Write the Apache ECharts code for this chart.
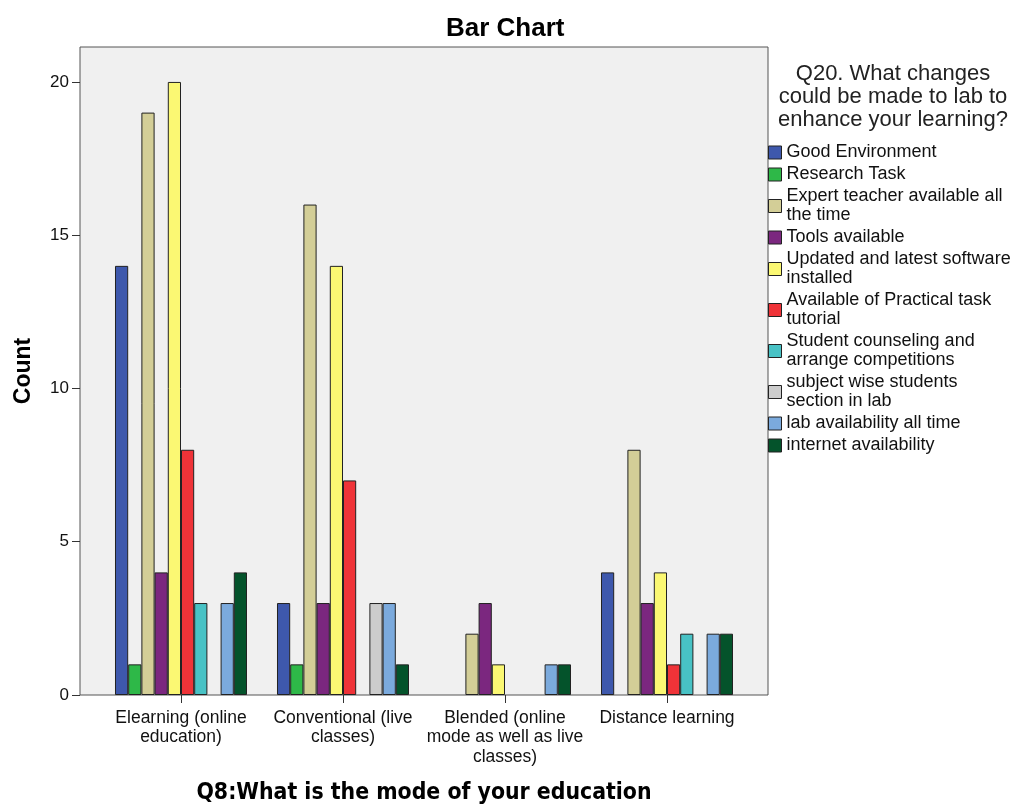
<!DOCTYPE html>
<html>
<head>
<meta charset="utf-8">
<script src="https://cdn.jsdelivr.net/npm/echarts@6/dist/echarts.min.js"></script>
<style>
html,body{margin:0;padding:0;background:#fff;}
#main{width:1021px;height:805px;}
</style>
</head>
<body>
<div id="main"></div>
<script>
var categories = [
  'Elearning (online\neducation)',
  'Conventional (live\nclasses)',
  'Blended (online\nmode as well as live\nclasses)',
  'Distance learning'
];
var seriesNames = [
  'Good Environment',
  'Research Task',
  'Expert teacher available all\nthe time',
  'Tools available',
  'Updated and latest software\ninstalled',
  'Available of Practical task\ntutorial',
  'Student counseling and\narrange competitions',
  'subject wise students\nsection in lab',
  'lab availability all time',
  'internet availability'
];
var goodEnvironment   = [14, 3, 0, 4];
var researchTask      = [1, 1, 0, 0];
var expertTeacher     = [19, 16, 2, 8];
var toolsAvailable    = [4, 3, 3, 3];
var updatedSoftware   = [20, 14, 1, 4];
var practicalTutorial = [8, 7, 0, 1];
var studentCounseling = [3, 0, 0, 2];
var subjectWise       = [0, 3, 0, 0];
var labAvailability   = [3, 3, 1, 2];
var internetAvail     = [4, 1, 1, 2];
var yTicks = [0, 5, 10, 15, 20];

var seriesValues = [goodEnvironment, researchTask, expertTeacher, toolsAvailable,
  updatedSoftware, practicalTutorial, studentCounseling, subjectWise, labAvailability, internetAvail];
var colors = ['#3E58AC', '#2EB848', '#D3CE97', '#7B277F', '#FBF873',
  '#EF3338', '#48C2C5', '#CCCCCC', '#7BAADD', '#04532B'];

var chart = echarts.init(document.getElementById('main'), null, {renderer: 'canvas'});
var FONT = 'Liberation Sans, Arial, sans-serif';

// frame (plot area incl. SPSS-style side padding)
var FX = 80, FY = 47, FW = 688, FH = 648, PAD = 20;

var series = seriesNames.map(function (name, i) {
  return {
    name: name,
    type: 'bar',
    barGap: '0%',
    barCategoryGap: '18.5%',
    data: seriesValues[i].map(function (v) { return v === 0 ? null : v; }),
    itemStyle: {color: colors[i], borderColor: '#222', borderWidth: 1},
    emphasis: {disabled: true}
  };
});

chart.setOption({
  animation: false,
  color: colors,
  title: {
    text: 'Bar Chart',
    left: 441,
    top: 11,
    textStyle: {fontFamily: FONT, fontSize: 26, fontWeight: 'bold', color: '#000'}
  },
  grid: {left: FX + PAD, right: 1021 - (FX + FW) + PAD, top: FY, bottom: 805 - (FY + FH),
    show: false, containLabel: false, outerBoundsMode: 'none'},
  legend: {
    orient: 'vertical',
    left: 763,
    top: 138,
    itemWidth: 13,
    itemHeight: 13,
    itemGap: 3,
    icon: 'rect',
    selectedMode: false,
    itemStyle: {borderColor: '#222', borderWidth: 1},
    textStyle: {fontFamily: FONT, fontSize: 18, lineHeight: 19, color: '#111'},
    data: seriesNames
  },
  graphic: [{
    type: 'rect',
    z: -10,
    silent: true,
    shape: {x: FX, y: FY, width: FW, height: FH},
    style: {fill: '#F0F0F0', stroke: '#555', lineWidth: 1}
  }, {
    type: 'text',
    x: 893,
    y: 62,
    style: {
      text: 'Q20. What changes\ncould be made to lab to\nenhance your learning?',
      textAlign: 'center',
      textVerticalAlign: 'top',
      font: '22px Liberation Sans, Arial, sans-serif',
      lineHeight: 23,
      fill: '#222'
    }
  }],
  xAxis: {
    type: 'category',
    data: categories,
    name: 'Q8:What is the mode of your education',
    nameLocation: 'middle',
    nameGap: 87,
    nameTextStyle: {fontFamily: 'DejaVu Sans Condensed, DejaVu Sans, sans-serif', fontSize: 22.8, fontWeight: 'bold', color: '#000'},
    axisLine: {show: false},
    axisTick: {show: true, alignWithLabel: true, length: 8, lineStyle: {color: '#333'}},
    axisLabel: {fontFamily: FONT, fontSize: 17.5, lineHeight: 19.5, color: '#111', margin: 13, interval: 0}
  },
  yAxis: {
    type: 'value',
    min: 0,
    max: 21.14,
    interval: 5,
    offset: PAD,
    name: 'Count',
    nameLocation: 'middle',
    nameGap: 45,
    nameMoveOverlap: false,
    nameRotate: 90,
    nameTextStyle: {fontFamily: FONT, fontSize: 23, fontWeight: 'bold', color: '#000'},
    axisLine: {show: false},
    axisTick: {show: true, length: 8, lineStyle: {color: '#333'}},
    splitLine: {show: false},
    axisLabel: {fontFamily: FONT, fontSize: 17, color: '#111', margin: 11, showMaxLabel: false,
      formatter: function (v) { return yTicks.indexOf(v) >= 0 ? String(v) : ''; }}
  },
  series: series
});
</script>
</body>
</html>
